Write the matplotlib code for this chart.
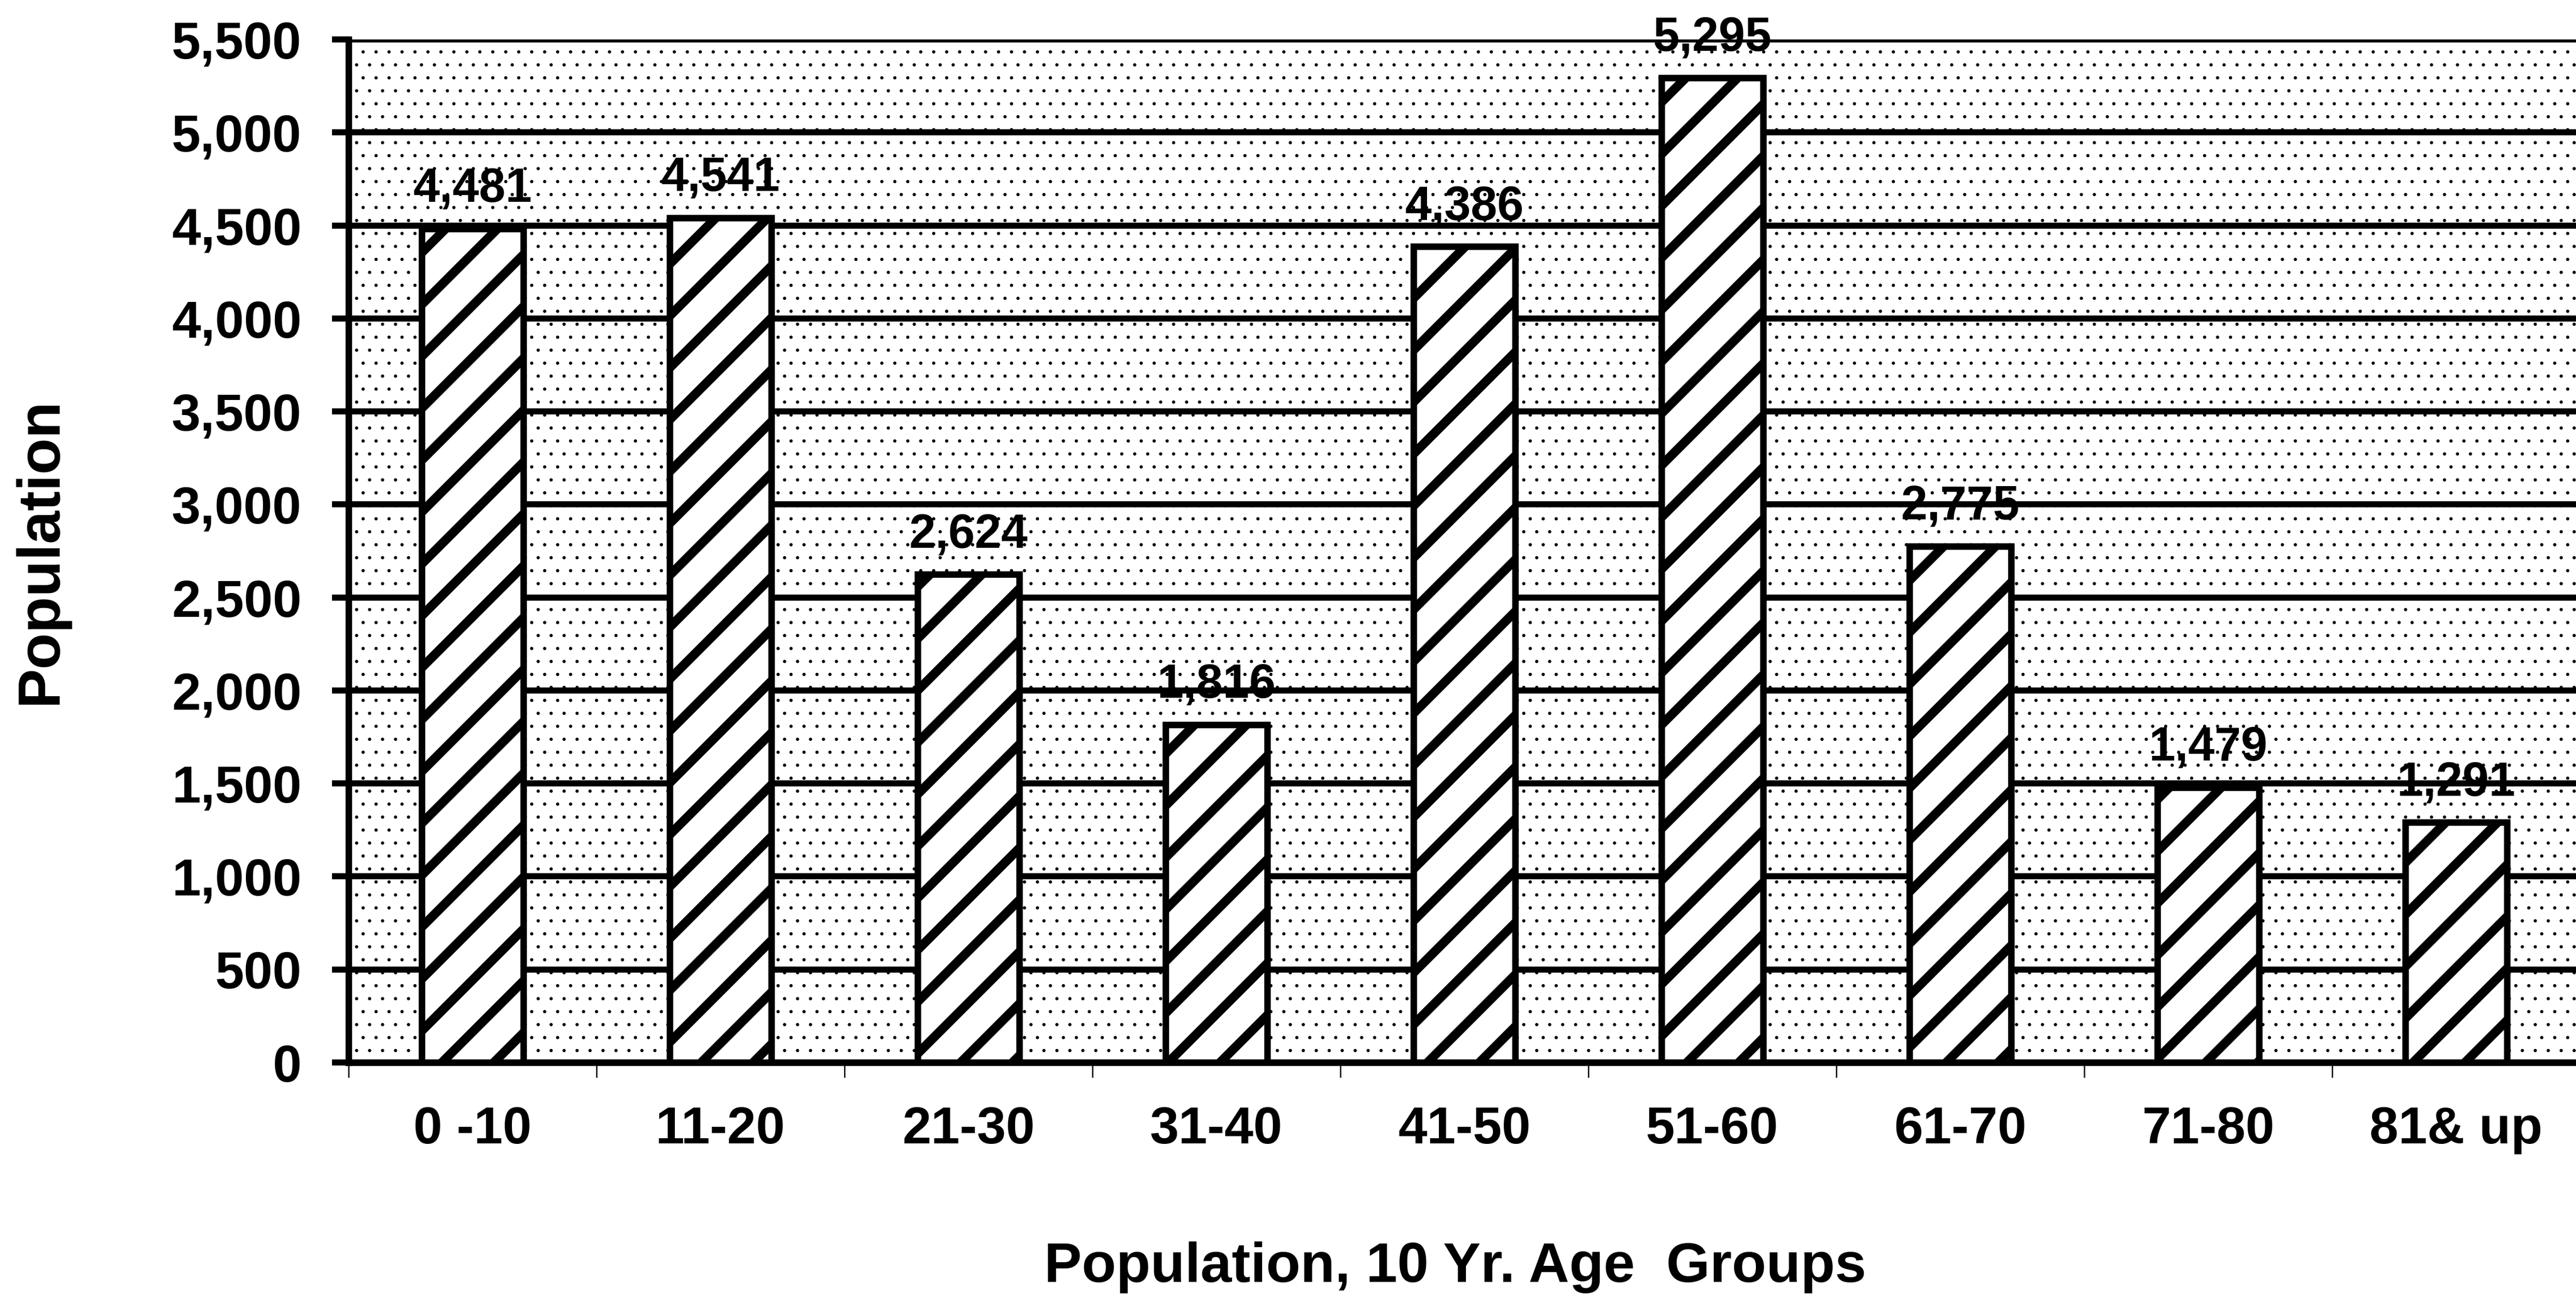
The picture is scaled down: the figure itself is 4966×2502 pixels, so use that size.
import numpy as np
import matplotlib as mpl
mpl.use('Agg')
import matplotlib.pyplot as plt
from matplotlib.patches import Rectangle

# population by 10 year age group
groups = ['0 -10', '11-20', '21-30', '31-40', '41-50', '51-60', '61-70', '71-80', '81& up']
population = [4481, 4541, 2624, 1816, 4386, 5295, 2775, 1479, 1291]
yticks = np.arange(0, 5501, 500)

plt.rcParams['font.family'] = ['Liberation Sans', 'DejaVu Sans']
plt.rcParams['font.weight'] = 'bold'
plt.rcParams['hatch.linewidth'] = 4.2

dpi = 300
fig = plt.figure(figsize=(4966 / dpi, 2502 / dpi), dpi=dpi)
W, H = 4966., 2502.
ax = fig.add_axes([672 / W, (H - 2048) / H, (4974 - 672) / W, (2048 - 76) / H])

x = np.arange(len(groups))
bars = ax.bar(x, population, width=0.41, color='white', edgecolor='black',
              linewidth=3.0, hatch='/', zorder=3)

# stippled plot area
bg = Rectangle((0, 0), 1, 1, transform=ax.transAxes, facecolor='white',
               edgecolor='black', linewidth=0, hatch='..', zorder=0.5)
if hasattr(bg, 'set_hatch_linewidth'):
    bg.set_hatch_linewidth(0.3)
    for b in bars:
        b.set_hatch_linewidth(4.2)
ax.add_patch(bg)

for xi, v in zip(x, population):
    ax.annotate('{:,}'.format(v), (xi, v), xytext=(0, 12.5), textcoords='offset points',
                ha='center', va='baseline', fontsize=22, fontweight='bold', zorder=5)

ax.set_xlim(-0.5, len(groups) - 0.5)
ax.set_ylim(0, 5500)
ax.set_yticks(yticks)
ax.set_yticklabels(['{:,}'.format(t) for t in yticks], fontsize=24, fontweight='bold')
ax.set_xticks(x)
ax.set_xticklabels(groups, fontsize=24, fontweight='bold')
ax.set_xticks(np.arange(len(groups) + 1) - 0.5, minor=True)
ax.tick_params(axis='x', which='major', length=0, pad=20)
ax.tick_params(axis='x', which='minor', length=7, width=0.6, direction='out')
ax.tick_params(axis='y', which='major', length=7.7, width=2.8, direction='out', pad=14)

ax.yaxis.grid(True, color='black', linewidth=2.8, zorder=1)
ax.set_axisbelow(True)
for s in ['top', 'right']:
    ax.spines[s].set_visible(False)
ax.spines['left'].set_linewidth(3.0)
ax.spines['bottom'].set_linewidth(3.0)
ax.spines['left'].set_zorder(4)
ax.spines['bottom'].set_zorder(4)

ax.set_ylabel('Population', fontsize=27.5, fontweight='bold')
ax.yaxis.set_label_coords(-0.1255, 0.5)
ax.set_xlabel('Population, 10 Yr. Age  Groups', fontsize=26, fontweight='bold')
ax.xaxis.set_label_coords(0.496, -0.175)

fig.savefig('out.png', dpi=dpi, facecolor='white')
